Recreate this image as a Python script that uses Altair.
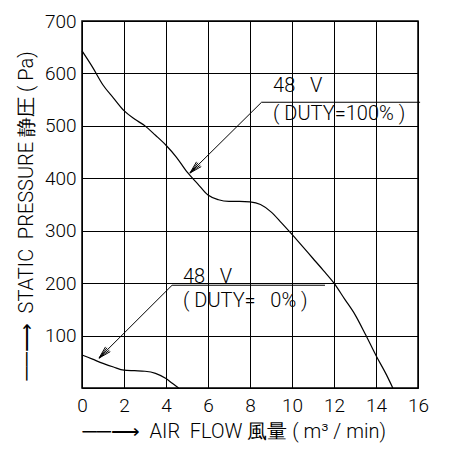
import math
import altair as alt
import pandas as pd

# ---- data ----
hi_x = [0, 0.5, 1, 1.5, 2, 2.5, 3, 3.5, 4, 4.5, 5, 5.5, 6, 6.5, 7, 7.5, 8, 8.5,
        9, 9.5, 10, 10.5, 11, 11.5, 12, 12.5, 13, 13.5, 14, 14.5, 14.8]
hi_y = [643, 612, 578, 553, 529, 513, 500, 482, 463, 440, 412, 390, 368, 359, 356,
        356, 355, 350, 336, 315, 293, 270, 247, 224, 200, 170, 140, 102, 62, 25, 0]
lo_x = [0, 0.5, 1, 1.5, 2, 2.5, 3, 3.5, 4, 4.3, 4.6]
lo_y = [63, 55, 47, 40, 34, 33, 32, 28, 18, 9, 0]

NB = "\u00a0"
# leader lines: tip (arrow head), elbow, end of horizontal line
ann_names = ["100", "0"]
ann_tip_x = [5.14, 0.81]
ann_tip_y = [410, 57]
ann_elbow_x = [8.55, 4.29]
ann_elbow_y = [545, 196]
ann_end_x = [16.1, 11.57]
ann_line1 = ["48" + NB * 3 + "V", "48" + NB * 3 + "V"]
ann_line2 = ["(" + NB + "DUTY=100%" + NB + ")", "(" + NB + "DUTY=" + NB * 3 + "0%" + NB + ")"]
ann_text_x = [9.1, 4.81]
ann_text_y1 = [564, 200]
ann_text_y2 = [511, 154]

x_ticks = list(range(0, 17))
y_ticks = list(range(0, 701, 100))

W, H = 336, 367
XMAX, YMAX = 16, 700
FONT = "Roboto"

curve = pd.DataFrame(
    {"flow": hi_x + lo_x, "pres": hi_y + lo_y,
     "series": ["100"] * len(hi_x) + ["0"] * len(lo_x)}
)

# segments
seg_rows = []
sx, sy = W / XMAX, H / YMAX
for i in range(len(ann_names)):
    seg_rows.append(dict(x=ann_elbow_x[i], y=ann_elbow_y[i], x2=ann_end_x[i], y2=ann_elbow_y[i]))
    seg_rows.append(dict(x=ann_elbow_x[i], y=ann_elbow_y[i], x2=ann_tip_x[i], y2=ann_tip_y[i]))
    # arrow barbs
    dxp = (ann_elbow_x[i] - ann_tip_x[i]) * sx
    dyp = (ann_elbow_y[i] - ann_tip_y[i]) * sy
    n = math.hypot(dxp, dyp)
    ux, uy = dxp / n, dyp / n
    for ang in (-0.26, -0.13, 0.13, 0.26):
        ca, sa = math.cos(ang), math.sin(ang)
        rx, ry = ux * ca - uy * sa, ux * sa + uy * ca
        L = 13
        seg_rows.append(dict(x=ann_tip_x[i], y=ann_tip_y[i],
                             x2=ann_tip_x[i] + rx * L / sx, y2=ann_tip_y[i] + ry * L / sy))
segs = pd.DataFrame(seg_rows)

texts = pd.DataFrame({
    "x": ann_text_x + ann_text_x,
    "y": ann_text_y1 + ann_text_y2,
    "t": ann_line1 + ann_line2,
})

ARROW = "──⟶" + NB * 2
x_title = ARROW + "AIR" + NB * 2 + "FLOW" + NB + "風量" + NB + "(" + NB + "m³" + NB + "/" + NB + "min)"
y_title = ARROW + "STATIC" + NB * 2 + "PRESSURE" + NB + "静圧" + NB + "(" + NB + "Pa)"

xs = alt.Scale(domain=[0, XMAX], nice=False, zero=False)
ys = alt.Scale(domain=[0, YMAX], nice=False, zero=False)

lines = alt.Chart(curve).mark_line(color="black", strokeWidth=1.2, interpolate="monotone").encode(
    x=alt.X("flow:Q", scale=xs, axis=alt.Axis(
        values=x_ticks, labelExpr="datum.value % 2 == 0 ? datum.label : ''",
        labelFlush=False,
        title=x_title, titleAnchor="start", titleAlign="left",
        titleX=0, titleY=49, titleBaseline="alphabetic")),
    y=alt.Y("pres:Q", scale=ys, axis=alt.Axis(
        values=y_ticks, labelExpr="datum.value == 0 ? '' : datum.label",
        labelFlush=False,
        title=y_title, titleAnchor="start", titleAlign="left",
        titleX=-50, titleY=H - 8, titleBaseline="alphabetic", titleAngle=-90)),
    detail="series:N",
)

rules = alt.Chart(segs).mark_rule(color="black", strokeWidth=1).encode(
    x="x:Q", y="y:Q", x2="x2:Q", y2="y2:Q"
)

labels = alt.Chart(texts).mark_text(align="left", baseline="alphabetic", fontSize=20,
                                    font=FONT, fontWeight=300, color="black").encode(
    x="x:Q", y="y:Q", text="t:N"
)

chart = alt.layer(lines, rules, labels).properties(
    width=W, height=H,
    autosize=alt.AutoSizeParams(type="none"),
    padding={"left": 82, "top": 21, "right": 33, "bottom": 62},
).configure_view(stroke="black", strokeWidth=1.5).configure_axis(
    grid=True, gridColor="black", gridOpacity=1, gridWidth=1,
    domain=False, ticks=False,
    labelFont=FONT, labelFontSize=19, labelFontWeight=300, labelColor="black", labelPadding=6,
    titleFont=FONT, titleFontSize=20, titleFontWeight=300, titleColor="black",
).configure_axisX(labelPadding=8)

chart.save("out.html", embed_options={"renderer": "svg", "actions": False})
